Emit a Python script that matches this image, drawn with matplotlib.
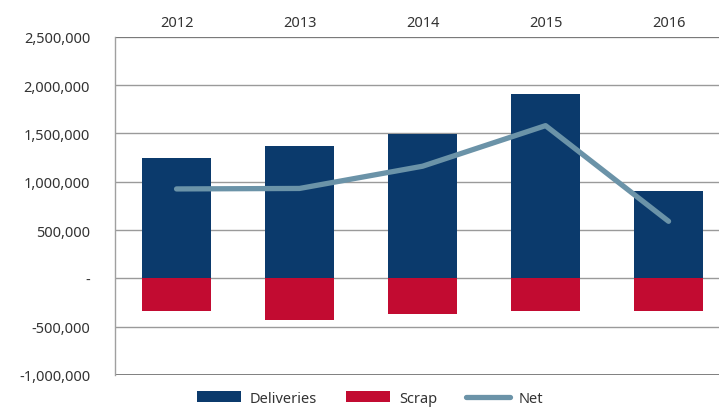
import matplotlib
matplotlib.use("Agg")
import matplotlib.pyplot as plt
from matplotlib.ticker import FuncFormatter
import numpy as np

years = ["2012", "2013", "2014", "2015", "2016"]
deliveries = [1242000, 1366000, 1490000, 1905000, 900000]
scrap = [-340000, -432000, -368000, -340000, -340000]
net = [925000, 930000, 1160000, 1580000, 590000]

plt.rcParams['font.family'] = ['Noto Sans', 'DejaVu Sans']

fig = plt.figure(figsize=(7.19, 4.10), dpi=100)
ax = fig.add_axes([0.160, 0.083, 0.840, 0.825])

x = np.arange(len(years))
bw = 0.56
b1 = ax.bar(x, deliveries, width=bw, color="#0b3a6c", label="Deliveries", zorder=3)
b2 = ax.bar(x, scrap, width=bw, color="#c20b31", label="Scrap", zorder=3)
l1, = ax.plot(x, net, color="#6b93a8", lw=3.8, solid_capstyle="round", label="Net", zorder=4)

ax.set_ylim(-1000000, 2500000)
ax.set_xlim(-0.5, 4.41)
yt = np.arange(-1000000, 2500001, 500000)
ax.set_yticks(yt)
ax.yaxis.set_major_formatter(FuncFormatter(lambda v, p: "-" if v == 0 else f"{int(v):,}"))
ax.grid(axis="y", color="#9a9a9a", lw=1.0, zorder=0)
ax.set_axisbelow(True)

ax.xaxis.tick_top()
ax.set_xticks(x)
ax.set_xticklabels(years)
ax.tick_params(axis="x", length=0, pad=5, labelsize=10.5, colors="#333333")
ax.tick_params(axis="y", length=0, pad=18, labelsize=10.5, colors="#333333")

for s in ["right", "bottom", "top"]:
    ax.spines[s].set_visible(False)
ax.spines["left"].set_color("#a0a0a0")
ax.spines["left"].set_linewidth(1.0)
ax.axhline(2500000, color="#777777", lw=1.3, zorder=1)
ax.axhline(-1000000, color="#777777", lw=1.3, zorder=1)

leg = fig.legend([b1, b2, l1], ["Deliveries", "Scrap", "Net"],
                 loc="center", bbox_to_anchor=(0.515, 0.026), ncol=3, frameon=False,
                 fontsize=10.5, handlelength=3.0, handleheight=0.8, columnspacing=2.0,
                 handletextpad=0.6)
for t in leg.get_texts():
    t.set_color("#333333")

fig.savefig("out.png", dpi=100)
